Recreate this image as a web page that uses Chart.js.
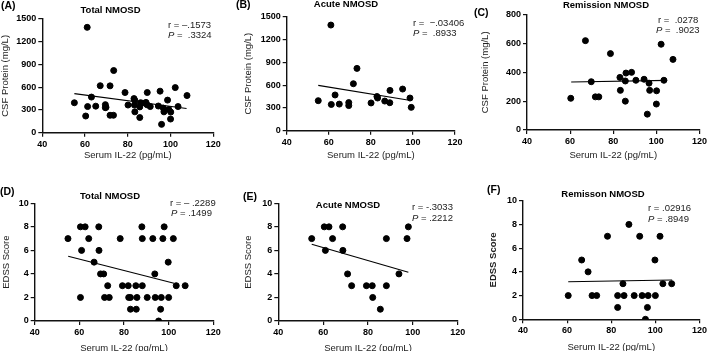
<!DOCTYPE html>
<html>
<head>
<meta charset="utf-8">
<script src="https://cdn.jsdelivr.net/npm/chart.js@4.4.1/dist/chart.umd.min.js"></script>
<style>
  html, body { margin: 0; padding: 0; background: #fff; overflow: hidden; width: 709px; height: 351px; }
  .cell { position: absolute; }
</style>
</head>
<body>
<script>
// serum IL-22 (pg/mL) vs CSF protein (mg/L), acute patients
const acuteIl22Csf = [55, 61, 61.2, 63, 65, 69.5, 69.5, 71.7, 73.4, 80.1, 82.9, 83.2, 86.6, 89.1, 89, 95.1, 98.6, 99.2];
const acuteCsf = [395, 1390, 345, 470, 350, 370, 330, 618, 820, 365, 450, 430, 390, 530, 368, 548, 430, 307];

// remission patients
const remIl22Csf = [60.3, 67.1, 69.8, 71.7, 73.3, 78.7, 83.1, 83.3, 85.6, 85.9, 85.6, 88.5, 90.5, 94.3, 96.6, 96.9, 95.8, 100.1, 100, 102.2, 103.5, 107.7];
const remCsf = [220, 620, 335, 230, 230, 530, 365, 275, 340, 395, 200, 400, 345, 352, 325, 275, 110, 272, 180, 595, 345, 490];

// serum IL-22 vs EDSS score
const acuteIl22Edss = [60.5, 62.6, 68.7, 98, 54.9, 64.2, 88.2, 97.4, 61, 68.8, 70.9, 93.8, 72.7, 79.3, 81.9, 88.2, 82.1, 85.5];
const acuteEdss = [8, 8, 8, 8, 7, 7, 7, 7, 6, 6, 4, 4, 3, 3, 3, 3, 2, 1];
const remIl22Edss = [88, 78.3, 92.9, 102.1, 66.6, 99.8, 69.5, 85.3, 103.4, 107.4, 60.5, 71.3, 73.4, 82.9, 85.8, 90.4, 94, 96.7, 100, 82.9, 96.4, 95.5];
const remEdss = [8, 7, 7, 7, 5, 5, 4, 3, 3, 3, 2, 2, 2, 2, 2, 2, 2, 2, 2, 1, 1, 0];

// total = acute + remission
const totalIl22Csf = acuteIl22Csf.concat(remIl22Csf);
const totalCsf = acuteCsf.concat(remCsf);
const totalIl22Edss = acuteIl22Edss.concat(remIl22Edss);
const totalEdss = acuteEdss.concat(remEdss);

// regression line end points as drawn
const fitTotalCsfX = [55, 107.5], fitTotalCsfY = [515, 320];
const fitAcuteCsfX = [55, 97.5], fitAcuteCsfY = [596, 404];
const fitRemCsfX = [60.5, 105], fitRemCsfY = [333, 344];
const fitTotalEdssX = [55, 102.4], fitTotalEdssY = [5.5, 3.2];
const fitAcuteEdssX = [54.9, 98], fitAcuteEdssY = [6.52, 4.14];
const fitRemEdssX = [60.5, 107.6], fitRemEdssY = [3.17, 3.31];

const xTicks = [40, 60, 80, 100, 120];
const csfTicks = [0, 300, 600, 900, 1200, 1500];
const remCsfTicks = [0, 200, 400, 600, 800];
const edssTicks = [0, 2, 4, 6, 8, 10];

const FONT = "'Liberation Sans', Arial, sans-serif";
const LH = 9.5 * 1.2;

const panels = [
  { cell: [0, 0, 236, 175], plot: [42.3, 213.3, 19, 132.7], xs: totalIl22Csf, ys: totalCsf,
    fx: fitTotalCsfX, fy: fitTotalCsfY, yTicks: csfTicks, yTitle: 'CSF Protein (mg/L)', yTitleX: 5, xTitleY: 155.7,
    letter: ['(A)', 1, 6], title: ['Total NMOSD', 110.5, 10], r: ['r = \u2013.1573', 168, 25], p: ['=  .3324', 168, 35] },
  { cell: [236, 0, 236, 175], plot: [286.7, 455, 16.7, 130.7], xs: acuteIl22Csf, ys: acuteCsf,
    fx: fitAcuteCsfX, fy: fitAcuteCsfY, yTicks: csfTicks, yTitle: 'CSF Protein (mg/L)', yTitleX: 248, xTitleY: 155,
    letter: ['(B)', 236, 5.5], title: ['Acute NMOSD', 346, 4], r: ['r =  \u2212.03406', 413, 23], p: ['=  .8933', 413, 33] },
  { cell: [472, 0, 237, 175], plot: [527, 701.3, 14.7, 130], xs: remIl22Csf, ys: remCsf,
    fx: fitRemCsfX, fy: fitRemCsfY, yTicks: remCsfTicks, yTitle: 'CSF Protein (mg/L)', yTitleX: 485, xTitleY: 155,
    letter: ['(C)', 474, 13], title: ['Remission NMOSD', 606, 5], r: ['r =  .0278', 658, 20], p: ['=  .9023', 656, 30] },
  { cell: [0, 175, 236, 190], plot: [34.7, 213.3, 203.3, 321], xs: totalIl22Edss, ys: totalEdss,
    fx: fitTotalEdssX, fy: fitTotalEdssY, yTicks: edssTicks, yTitle: 'EDSS Score', yTitleX: 6, xTitleY: 348,
    letter: ['(D)', 0, 192.5], title: ['Total NMOSD', 110, 196.7], r: ['r = \u2013 .2289', 170, 203], p: ['= .1499', 171, 213] },
  { cell: [236, 175, 236, 190], plot: [278.3, 457.7, 203.3, 321], xs: acuteIl22Edss, ys: acuteEdss,
    fx: fitAcuteEdssX, fy: fitAcuteEdssY, yTicks: edssTicks, yTitle: 'EDSS Score', yTitleX: 248.5, xTitleY: 348,
    letter: ['(E)', 243, 197], title: ['Acute NMOSD', 348, 205], r: ['r = -.3033', 412, 207.5], p: ['= .2212', 412, 218] },
  { cell: [472, 175, 237, 190], plot: [523, 701.3, 200.7, 319.3], xs: remIl22Edss, ys: remEdss,
    fx: fitRemEdssX, fy: fitRemEdssY, yTicks: edssTicks, yTitle: 'EDSS Score', yTitleBold: true, yTitleX: 493, xTitleY: 347,
    letter: ['(F)', 487, 190.5], title: ['Remisson NMOSD', 603, 194], r: ['r = .02916', 648, 208], p: ['= .8949', 648, 219] }
];

function textPlugin(pn) {
  const cx = pn.cell[0], cy = pn.cell[1];
  return {
    id: 'panelText',
    afterDraw(chart) {
      const ctx = chart.ctx;
      ctx.save();
      ctx.fillStyle = '#000';
      ctx.textBaseline = 'middle';
      ctx.textAlign = 'left';
      ctx.font = 'bold 10.5px ' + FONT;
      ctx.fillText(pn.letter[0], pn.letter[1] - cx, pn.letter[2] - cy);
      ctx.textAlign = 'center';
      ctx.font = 'bold 9.5px ' + FONT;
      ctx.fillText(pn.title[0], pn.title[1] - cx, pn.title[2] - cy);
      ctx.textAlign = 'left';
      ctx.fillStyle = '#222';
      ctx.font = '9.5px ' + FONT;
      ctx.fillText(pn.r[0], pn.r[1] - cx, pn.r[2] - cy);
      ctx.font = 'italic 9.5px ' + FONT;
      ctx.fillText('P', pn.p[1] - cx, pn.p[2] - cy);
      const w = ctx.measureText('P ').width;
      ctx.font = '9.5px ' + FONT;
      ctx.fillText(pn.p[0], pn.p[1] - cx + w, pn.p[2] - cy);
      ctx.restore();
    }
  };
}

panels.forEach(pn => {
  const [cx, cy, cw, ch] = pn.cell;
  const [pl, pr, pt, pb] = pn.plot;
  const div = document.createElement('div');
  div.className = 'cell';
  div.style.left = cx + 'px';
  div.style.top = cy + 'px';
  div.style.width = cw + 'px';
  div.style.height = ch + 'px';
  const canvas = document.createElement('canvas');
  div.appendChild(canvas);
  document.body.appendChild(div);

  const yTicks = pn.yTicks;
  const axisCommon = {
    grid: { display: true, drawOnChartArea: false, drawTicks: true, tickLength: 4, color: '#111', lineWidth: 1.2 },
    border: { display: true, color: '#111', width: 1.4 },
    ticks: {
      color: '#000', font: { family: FONT, size: 9, weight: 'bold' }, padding: 2, autoSkip: false, maxRotation: 0,
      callback: v => String(v)
    }
  };

  new Chart(canvas, {
    type: 'scatter',
    data: {
      datasets: [
        {
          data: pn.xs.map((x, i) => ({ x: x, y: pn.ys[i] })),
          backgroundColor: '#000',
          borderColor: '#000',
          pointRadius: 3,
          pointHoverRadius: 3
        },
        {
          data: pn.fx.map((x, i) => ({ x: x, y: pn.fy[i] })),
          showLine: true,
          borderColor: '#000',
          borderWidth: 1.1,
          pointRadius: 0,
          pointHoverRadius: 0
        }
      ]
    },
    options: {
      responsive: true,
      maintainAspectRatio: false,
      animation: false,
      devicePixelRatio: 1,
      layout: { padding: { left: 0, right: cx + cw - pr, top: pt - cy, bottom: 0 } },
      plugins: { legend: { display: false }, tooltip: { enabled: false } },
      scales: {
        x: {
          ...axisCommon,
          type: 'linear',
          min: xTicks[0],
          max: xTicks[xTicks.length - 1],
          afterBuildTicks: s => { s.ticks = xTicks.map(v => ({ value: v })); },
          afterFit: s => { s.height = cy + ch - pb; },
          title: {
            display: true, text: 'Serum IL-22 (pg/mL)', color: '#222',
            font: { family: FONT, size: 9.5 },
            padding: { top: 0, bottom: ch - (pn.xTitleY - cy) - LH / 2 }
          }
        },
        y: {
          ...axisCommon,
          type: 'linear',
          min: yTicks[0],
          max: yTicks[yTicks.length - 1],
          afterBuildTicks: s => { s.ticks = yTicks.map(v => ({ value: v })); },
          afterFit: s => { s.width = pl - cx; },
          title: {
            display: true, text: pn.yTitle, color: '#222',
            font: { family: FONT, size: 9.5, weight: pn.yTitleBold ? 'bold' : 'normal' },
            padding: { top: (pn.yTitleX - cx) - LH / 2, bottom: 0 }
          }
        }
      }
    },
    plugins: [textPlugin(pn)]
  });
});
</script>
</body>
</html>
